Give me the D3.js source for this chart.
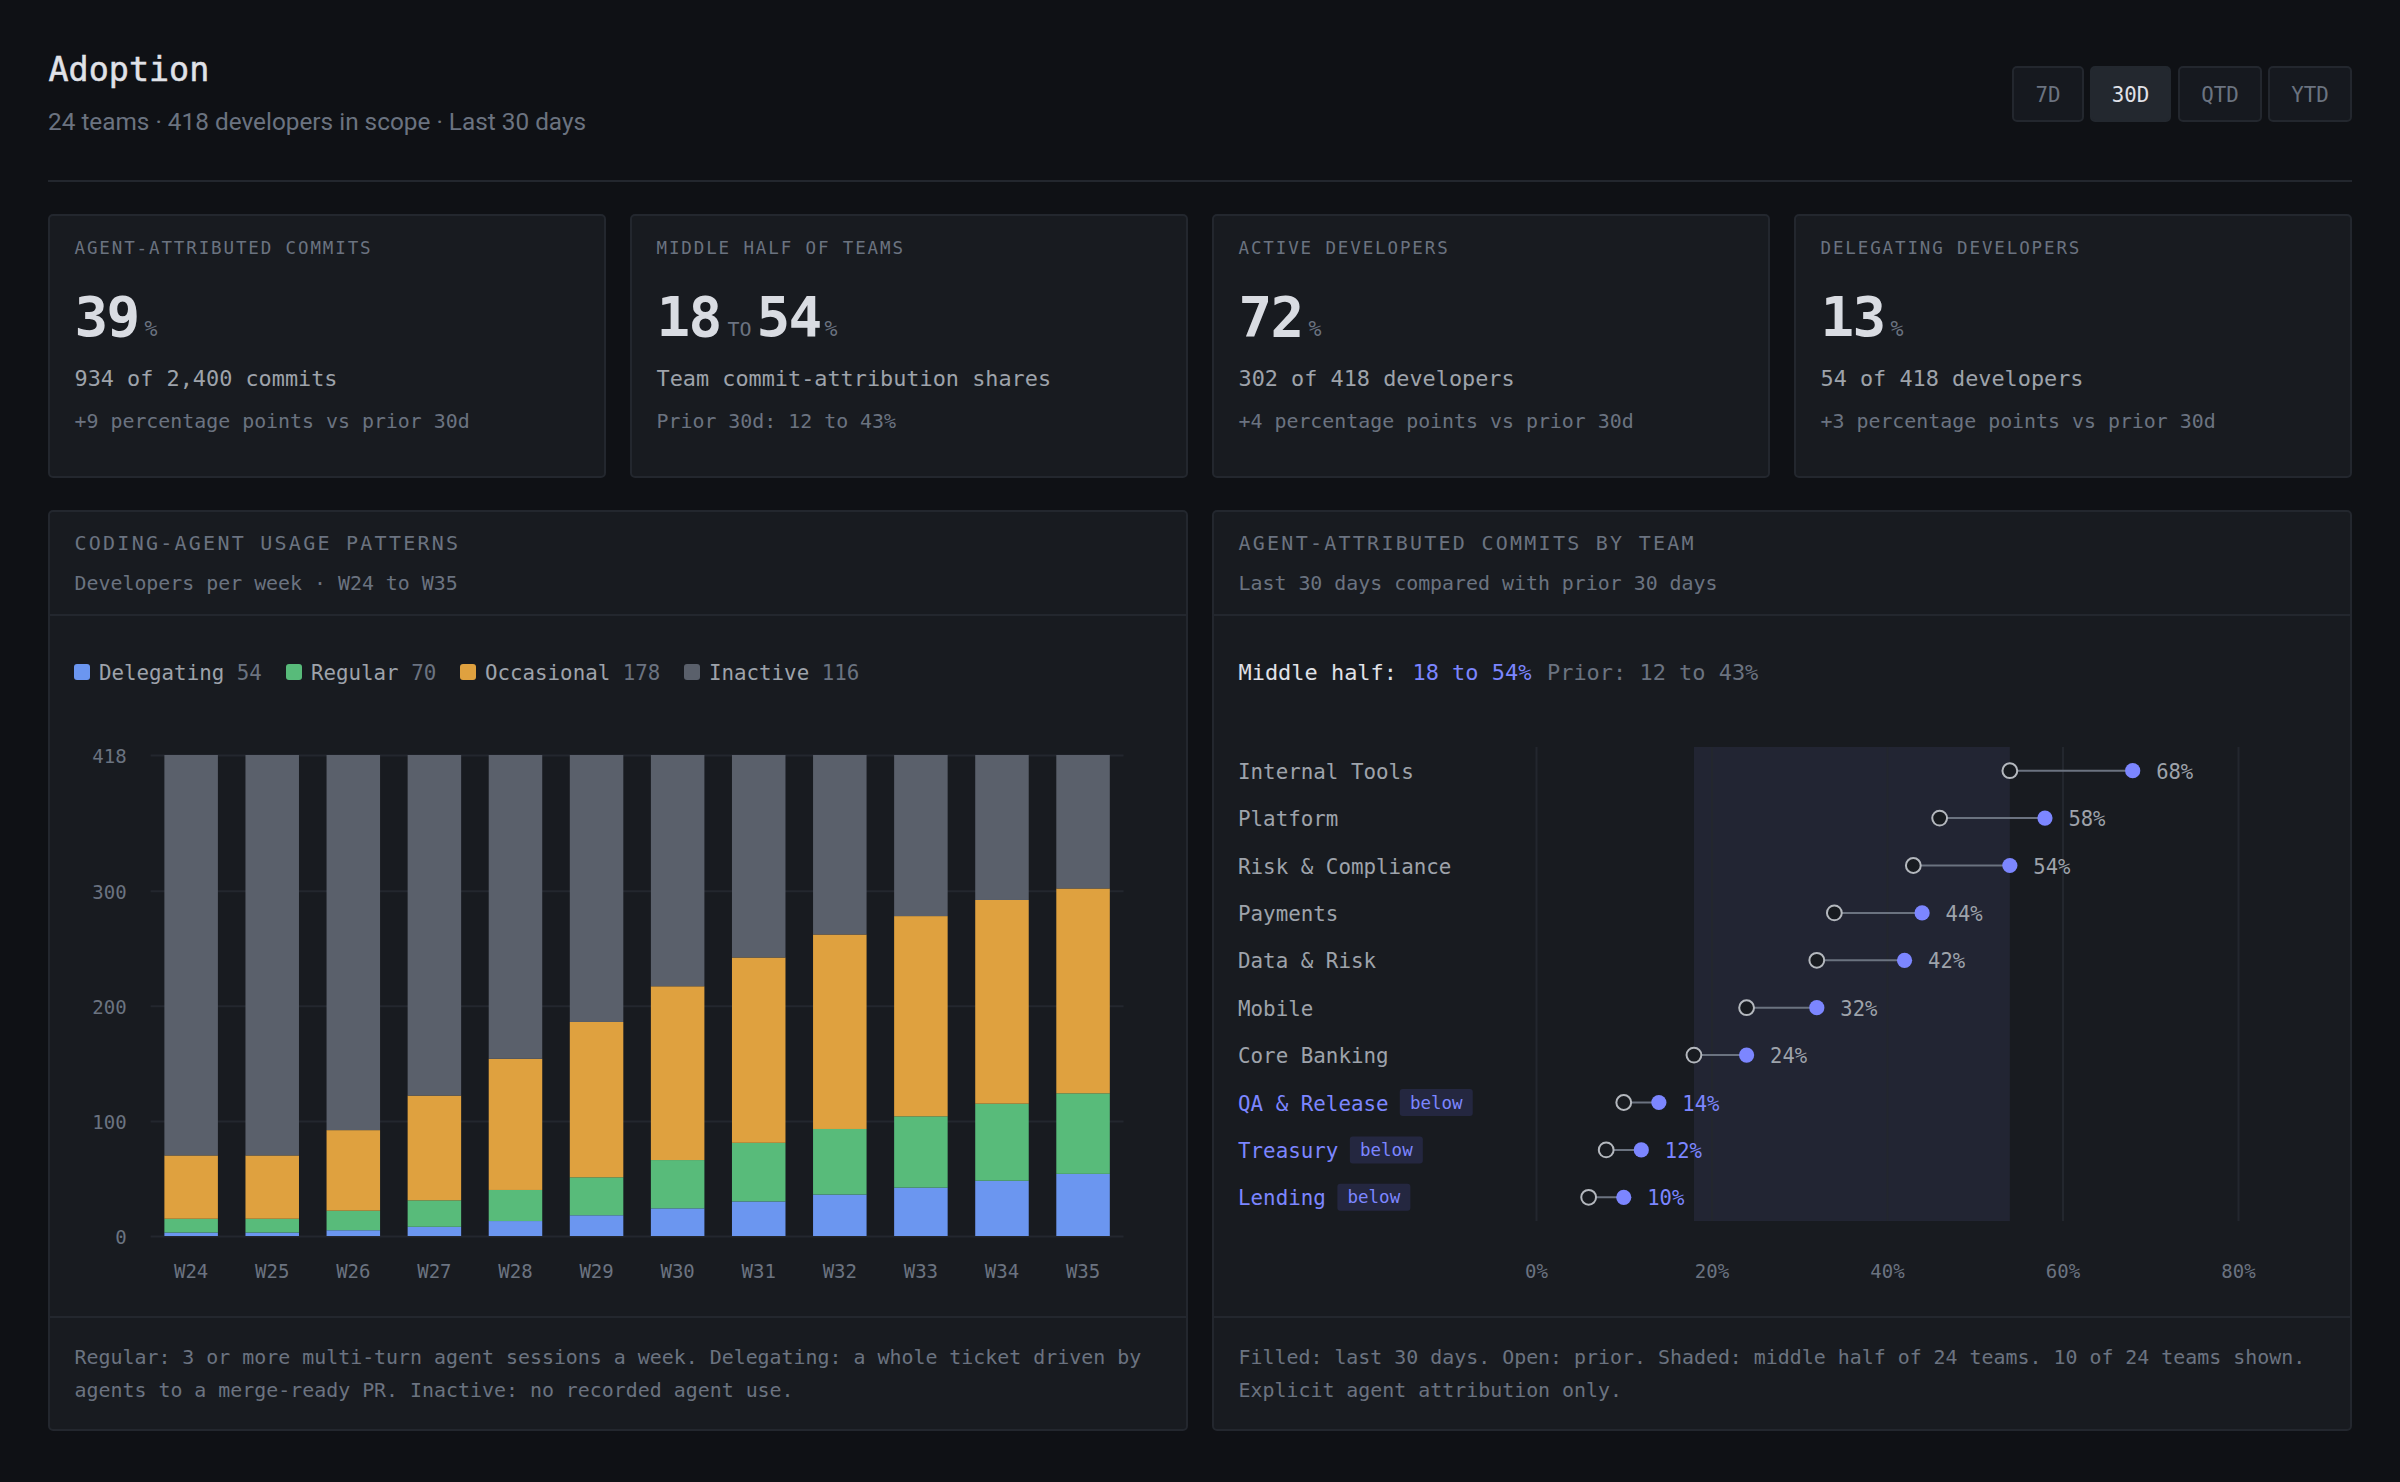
<!DOCTYPE html>
<html>
<head>
<meta charset="utf-8">
<title>Adoption</title>
<script src="https://cdn.jsdelivr.net/npm/d3@7"></script>
<style>
  html, body { margin: 0; padding: 0; background: #0f1115; }
  svg { display: block; }
  text { font-family: "DejaVu Sans Mono", monospace; }
</style>
</head>
<body>
<svg id="page" width="2400" height="1482"></svg>
<script>
// header
const ranges = ["7D", "30D", "QTD", "YTD"];
const activeRange = "30D";

// kpi cards
const cardLabels = ["AGENT-ATTRIBUTED COMMITS", "MIDDLE HALF OF TEAMS", "ACTIVE DEVELOPERS", "DELEGATING DEVELOPERS"];
const cardValues = [["39"], ["18", "54"], ["72"], ["13"]];
const cardDetails = ["934 of 2,400 commits", "Team commit-attribution shares", "302 of 418 developers", "54 of 418 developers"];
const cardDeltas = ["+9 percentage points vs prior 30d", "Prior 30d: 12 to 43%", "+4 percentage points vs prior 30d", "+3 percentage points vs prior 30d"];

// stacked bars
const weeks = ["W24", "W25", "W26", "W27", "W28", "W29", "W30", "W31", "W32", "W33", "W34", "W35"];
const delegating = [3, 3, 5, 8, 13, 18, 24, 30, 36, 42, 48, 54];
const regular = [12, 12, 17, 23, 27, 33, 42, 51, 57, 62, 67, 70];
const occasional = [55, 55, 70, 91, 114, 135, 151, 161, 169, 174, 177, 178];
const inactive = [348, 348, 326, 296, 264, 232, 201, 176, 156, 140, 126, 116];
const usageKeys = ["Delegating", "Regular", "Occasional", "Inactive"];
const usageColors = ["#6b96f0", "#58bb7a", "#dfa13f", "#5a606b"];
const usageTicks = [0, 100, 200, 300, 418];

// dumbbells
const teams = ["Internal Tools", "Platform", "Risk & Compliance", "Payments", "Data & Risk", "Mobile", "Core Banking", "QA & Release", "Treasury", "Lending"];
const lastShare = [68, 58, 54, 44, 42, 32, 24, 14, 12, 10];
const priorShare = [54, 46, 43, 34, 32, 24, 18, 10, 8, 6];
const middleHalf = [18, 54];
const shareTicks = [0, 20, 40, 60, 80];

const BG = "#0f1115", PANEL = "#181b20", LINE = "#23272e";
const TEXT = "#e0e2e8", MID = "#9ea3ab", DIM = "#6b7380", ACCENT = "#7c86ff";

const svg = d3.select("#page");

function label(parent, x, y, str, size, fill, extra) {
  const t = parent.append("text")
    .attr("x", x).attr("y", y)
    .attr("font-size", size)
    .attr("fill", fill)
    .text(str);
  if (extra) Object.entries(extra).forEach(([k, v]) => t.attr(k, v));
  return t;
}

function box(parent, x, y, w, h, fill, stroke, r) {
  return parent.append("rect")
    .attr("x", x + 1).attr("y", y + 1)
    .attr("width", w - 2).attr("height", h - 2)
    .attr("rx", r === undefined ? 4 : r)
    .attr("fill", fill)
    .attr("stroke", stroke)
    .attr("stroke-width", 2);
}

// ---- header ----
label(svg, 48.5, 81, "Adoption", 33.4, TEXT, { stroke: TEXT, "stroke-width": 0.5 });
label(svg, 48, 130, "24 teams · 418 developers in scope · Last 30 days", 24.35, DIM)
  .style("font-family", "Roboto");

const rangeX = [2012, 2090, 2178, 2268];
const rangeW = [72, 81, 84, 84];
ranges.forEach((r, i) => {
  const on = r === activeRange;
  box(svg, rangeX[i], 66, rangeW[i], 56, on ? "#23282f" : "#16191f", on ? "#23282f" : LINE);
  label(svg, rangeX[i] + rangeW[i] / 2, 101.5, r, 20.8, on ? TEXT : DIM, { "text-anchor": "middle" });
});

svg.append("rect").attr("x", 48).attr("y", 180).attr("width", 2304).attr("height", 2).attr("fill", LINE);

// ---- kpi cards ----
const cardX = d3.scaleBand().domain(d3.range(4)).range([48, 2352]).paddingInner(24 / 582);
cardLabels.forEach((name, i) => {
  const x0 = cardX(i), x = x0 + 26.5;
  box(svg, x0, 214, cardX.bandwidth(), 264, PANEL, LINE);
  label(svg, x, 254, name, 17.5, DIM, { "letter-spacing": 1.88 });
  const big = { "font-weight": 700, "letter-spacing": -1.7 };
  label(svg, x, 336, cardValues[i][0], 56, "#d9dce2", big);
  if (cardValues[i].length > 1) {
    label(svg, x + 71, 336, "TO", 20, DIM);
    label(svg, x + 100, 336, cardValues[i][1], 56, "#d9dce2", big);
    label(svg, x + 168, 336, "%", 21.5, DIM);
  } else {
    label(svg, x + 70, 336, "%", 21.5, DIM);
  }
  label(svg, x, 386, cardDetails[i], 21.85, MID);
  label(svg, x, 428, cardDeltas[i], 19.9, DIM);
});

// ---- panels ----
function panel(x0, title, sub, notes) {
  const g = svg.append("g");
  const w = 1140, x = x0 + 26.5;
  box(g, x0, 510, w, 921, PANEL, LINE);
  g.append("rect").attr("x", x0 + 2).attr("y", 614).attr("width", w - 4).attr("height", 2).attr("fill", LINE);
  g.append("rect").attr("x", x0 + 2).attr("y", 1316).attr("width", w - 4).attr("height", 2).attr("fill", LINE);
  label(g, x, 550, title, 20, DIM, { "letter-spacing": 2.25 });
  label(g, x, 590, sub, 19.9, DIM);
  notes.forEach((n, i) => label(g, x, 1364 + i * 32.5, n, 19.92, DIM));
  return g;
}

const left = panel(48, "CODING-AGENT USAGE PATTERNS", "Developers per week · W24 to W35", [
  "Regular: 3 or more multi-turn agent sessions a week. Delegating: a whole ticket driven by",
  "agents to a merge-ready PR. Inactive: no recorded agent use."
]);
const right = panel(1212, "AGENT-ATTRIBUTED COMMITS BY TEAM", "Last 30 days compared with prior 30 days", [
  "Filled: last 30 days. Open: prior. Shaded: middle half of 24 teams. 10 of 24 teams shown.",
  "Explicit agent attribution only."
]);

// legend
const legendSwatch = [74, 286, 460, 684];
const legendTotals = [delegating[11], regular[11], occasional[11], inactive[11]];
usageKeys.forEach((k, i) => {
  left.append("rect").attr("x", legendSwatch[i]).attr("y", 664).attr("width", 16).attr("height", 16)
    .attr("rx", 3).attr("fill", usageColors[i]);
  const t = label(left, legendSwatch[i] + 25, 680, "", 20.8, MID);
  t.append("tspan").text(k);
  t.append("tspan").attr("fill", DIM).text(" " + legendTotals[i]);
});

// stacked bars
const x = d3.scaleBand().domain(weeks).range([150.6, 1123.6]).paddingInner(0.34).paddingOuter(0.17);
const y = d3.scaleLinear().domain([0, 418]).range([1236, 755]);

const yAxis = left.append("g").attr("transform", "translate(150.6,0)")
  .call(d3.axisLeft(y).tickValues(usageTicks).tickSize(-973).tickPadding(24).tickFormat(d3.format("d")));
yAxis.select(".domain").remove();
yAxis.selectAll(".tick line").attr("stroke", LINE).attr("stroke-width", 2);
yAxis.selectAll(".tick text").attr("fill", DIM).attr("font-size", 19).attr("dy", "0.38em")
  .style("font-family", "'DejaVu Sans Mono', monospace");

const xAxis = left.append("g").attr("transform", "translate(0,1236)")
  .call(d3.axisBottom(x).tickSize(0).tickPadding(29));
xAxis.select(".domain").remove();
xAxis.selectAll(".tick text").attr("fill", DIM).attr("font-size", 19)
  .style("font-family", "'DejaVu Sans Mono', monospace");

const usageRows = weeks.map((w, i) => ({
  week: w,
  Delegating: delegating[i],
  Regular: regular[i],
  Occasional: occasional[i],
  Inactive: inactive[i]
}));
const layers = d3.stack().keys(usageKeys)(usageRows);

left.selectAll("g.layer").data(layers).join("g")
  .attr("class", "layer")
  .attr("fill", (d, i) => usageColors[i])
  .selectAll("rect").data(d => d).join("rect")
  .attr("x", d => x(d.data.week))
  .attr("width", x.bandwidth())
  .attr("y", d => y(d[1]))
  .attr("height", d => y(d[0]) - y(d[1]));

// ---- dumbbell panel ----
label(right, 1238.5, 680, "Middle half:", 21.95, TEXT);
label(right, 1412.5, 680, "18 to 54%", 21.95, ACCENT);
label(right, 1547, 680, "Prior: 12 to 43%", 21.95, DIM);

const sx = d3.scaleLinear().domain([0, 80]).range([1536, 2238]);
const sy = d3.scaleBand().domain(teams).range([747, 1221]);

right.append("rect")
  .attr("x", sx(middleHalf[0]))
  .attr("y", 747)
  .attr("width", sx(middleHalf[1]) - sx(middleHalf[0]))
  .attr("height", 474)
  .attr("fill", "#222533");

const sxAxis = right.append("g").attr("transform", "translate(0,1221)")
  .call(d3.axisBottom(sx).tickValues(shareTicks).tickSize(-474).tickPadding(44).tickFormat(d => d + "%"));
sxAxis.select(".domain").remove();
sxAxis.selectAll(".tick line").attr("stroke", LINE).attr("stroke-width", 2);
sxAxis.selectAll(".tick text").attr("fill", DIM).attr("font-size", 19)
  .style("font-family", "'DejaVu Sans Mono', monospace");

teams.forEach((team, i) => {
  const cy = sy(team) + sy.bandwidth() / 2;
  const below = lastShare[i] < middleHalf[0];
  const col = below ? ACCENT : MID;
  label(right, 1238, cy + 8, team, 20.85, col);
  if (below) {
    const bx = 1238 + team.length * 12.48 + 12;
    right.append("rect").attr("x", bx).attr("y", cy - 13.5).attr("width", 73).attr("height", 27)
      .attr("rx", 3).attr("fill", "#242740");
    label(right, bx + 36.5, cy + 6, "below", 17.5, ACCENT, { "text-anchor": "middle" });
  }
  right.append("line")
    .attr("x1", sx(priorShare[i])).attr("x2", sx(lastShare[i]))
    .attr("y1", cy).attr("y2", cy)
    .attr("stroke", "#6b7380").attr("stroke-width", 2);
  right.append("circle")
    .attr("cx", sx(priorShare[i])).attr("cy", cy).attr("r", 7.4)
    .attr("fill", PANEL).attr("stroke", "#b4b8be").attr("stroke-width", 2);
  right.append("circle")
    .attr("cx", sx(lastShare[i])).attr("cy", cy).attr("r", 7.6)
    .attr("fill", ACCENT);
  label(right, sx(lastShare[i]) + 23.5, cy + 8, lastShare[i] + "%", 20.5, col);
});
</script>
</body>
</html>
